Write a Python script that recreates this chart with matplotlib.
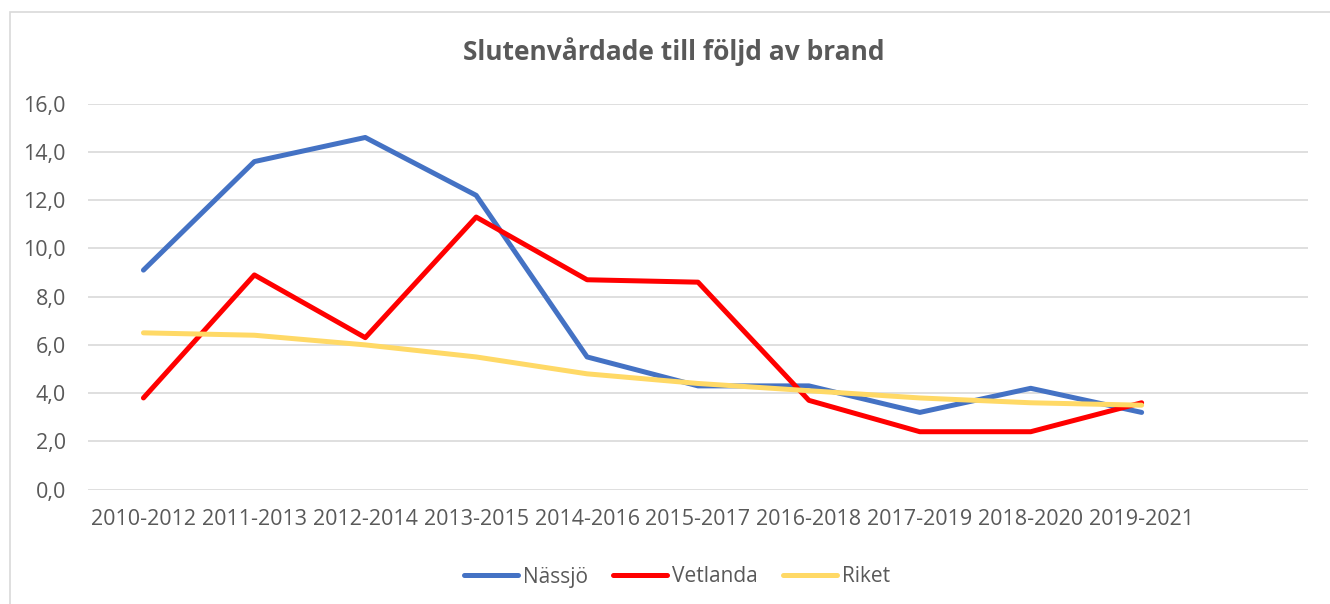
import matplotlib
matplotlib.use("Agg")
import matplotlib.pyplot as plt
from matplotlib.patches import Rectangle
from matplotlib.ticker import FuncFormatter

plt.rcParams["font.family"] = ["Open Sans", "DejaVu Sans"]

perioder = ["2010-2012", "2011-2013", "2012-2014", "2013-2015", "2014-2016",
            "2015-2017", "2016-2018", "2017-2019", "2018-2020", "2019-2021"]
nassjo = [9.1, 13.6, 14.6, 12.2, 5.5, 4.3, 4.3, 3.2, 4.2, 3.2]
vetlanda = [3.8, 8.9, 6.3, 11.3, 8.7, 8.6, 3.7, 2.4, 2.4, 3.6]
riket = [6.5, 6.4, 6.0, 5.5, 4.8, 4.4, 4.1, 3.8, 3.6, 3.5]

textfarg = "#595959"
gridfarg = "#D9D9D9"

fig = plt.figure(figsize=(13.3, 6.04), dpi=100)
ax = fig.add_axes([88/1330, 1 - 489.6/604, 1220/1330, (489.6 - 103.7)/604])

x = list(range(len(perioder)))
ax.plot(x, nassjo, color="#4472C4", lw=3.6, label="Nässjö", solid_capstyle="round", solid_joinstyle="round")
ax.plot(x, vetlanda, color="#FF0000", lw=3.6, label="Vetlanda", solid_capstyle="round", solid_joinstyle="round")
ax.plot(x, riket, color="#FFD966", lw=3.6, label="Riket", solid_capstyle="round", solid_joinstyle="round")

ax.set_xlim(-0.5, 10.5)
ax.set_ylim(0, 16)
ax.set_yticks(range(0, 17, 2))
ax.yaxis.set_major_formatter(FuncFormatter(lambda v, p: f"{v:.1f}".replace(".", ",")))
ax.set_xticks(x)
ax.set_xticklabels(perioder)
ax.tick_params(axis="both", length=0, colors=textfarg, labelsize=15.5)
ax.tick_params(axis="x", pad=14)
ax.tick_params(axis="y", pad=16)
ax.grid(axis="y", color=gridfarg, lw=1.2)
ax.set_axisbelow(True)
for s in ax.spines.values():
    s.set_visible(False)

fig.text(674/1330, 1 - 52/604, "Slutenvårdade till följd av brand", ha="center", va="center",
         fontsize=19, fontweight="bold", color=textfarg)

leg = fig.legend(loc="center", bbox_to_anchor=(677/1330, 1 - 577/604), ncol=3, frameon=False,
                 fontsize=15, handlelength=2.6, handletextpad=0.25, columnspacing=1.2)
for t in leg.get_texts():
    t.set_color(textfarg)

# ram runt diagrammet
fig.patches.append(Rectangle((10/1330, -0.1), 1.2, 1 - 12/604 + 0.1, transform=fig.transFigure,
                             fill=False, ec=gridfarg, lw=1.2))

fig.savefig("out.png", dpi=100)
